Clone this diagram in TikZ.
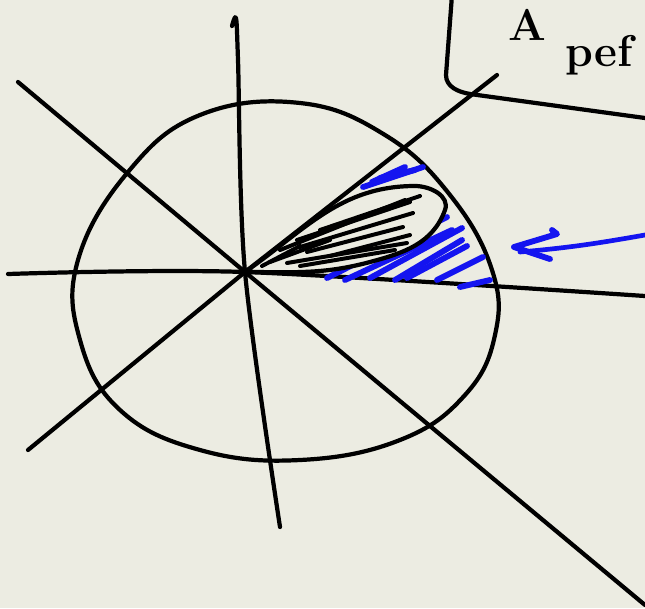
\documentclass[tikz,border=0pt]{standalone}
\usepackage{xcolor}
\usepackage{tikz}
\usetikzlibrary{calc}
\definecolor{paper}{HTML}{ECECE2}
\definecolor{penblue}{HTML}{1414F0}

\begin{document}
\begin{tikzpicture}[x=0.03cm, y=-0.03cm,
    ink/.style={draw=black, line width=3.6pt, line cap=round, line join=round},
    hatch/.style={black, line width=3.4pt, line cap=round},
    bluehatch/.style={penblue, line width=5pt, line cap=round},
    hand/.style={font=\fontsize{38}{38}\selectfont\bfseries, inner sep=0pt, anchor=base west},
]
\fill[paper] (0,0) rectangle (645,608);
\clip (0,0) rectangle (645,608);
\coordinate (O) at (245,272);

% axes through the origin
\draw[ink] plot[smooth] coordinates {(8,274) (O) (645,296)};
\draw[ink] plot[smooth] coordinates {(232,26) (236,18) (238,60) (O) (280,527)};
\draw[ink] (18,82) -- (O) -- (645,605);
\draw[ink] (28,450) -- (O) -- (497,75);

% closed curve
\draw[ink] plot[smooth cycle, tension=0.7] coordinates {(128,172) (200,115) (300,103) (385,135) (450,195) (492,270) (495,335) (465,395) (400,440) (300,460) (200,450) (120,410) (80,340) (78,260)};

% box with label
\draw[ink] (452,-5) -- (446,75) to[out=-90,in=170] (470,94) -- (645,118);
\node[hand] (lblA) at (508,40) {A};
\node[hand] (lblB) at (565,66) {pef};

% blue hatching in the sector
\foreach \a/\b in {{(363,187)/(423,167)}, {(372,182)/(405,167)}, {(380,178)/(415,170)}, {(327,278)/(447,217)}, {(345,280)/(452,230)}, {(370,278)/(462,228)}, {(395,280)/(462,240)}, {(407,278)/(467,246)}, {(437,280)/(483,257)}, {(460,287)/(490,280)}}
  \draw[bluehatch] \a -- \b;

% teardrop
\fill[paper] (O) to[out=35,in=180] (415,186) to[out=0,in=70] (445,210) to[out=-110,in=15] (370,262) to[out=195,in=0] (O);
\foreach \a/\b in {{(280,250)/(405,200)}, {(297,240)/(410,202)}, {(300,247)/(413,213)}, {(307,252)/(403,227)}, {(287,263)/(407,243)}, {(300,266)/(395,250)}, {(270,262)/(330,240)}, {(320,230)/(420,196)}, {(330,256)/(410,235)}, {(262,266)/(300,246)}}
  \draw[hatch] \a -- \b;
\draw[ink] (O) to[out=35,in=180] (415,186) to[out=0,in=70] (445,210) to[out=-110,in=15] (370,262) to[out=195,in=0] (O);

% blue arrow
\draw[penblue, line width=4pt, line cap=round, line join=round] (645,235) to[out=190,in=5] (520,252);
\draw[penblue, line width=5pt, line cap=round, line join=round] (552,230) -- (557,234) -- (514,247) -- (550,259);
\end{tikzpicture}
\end{document}
